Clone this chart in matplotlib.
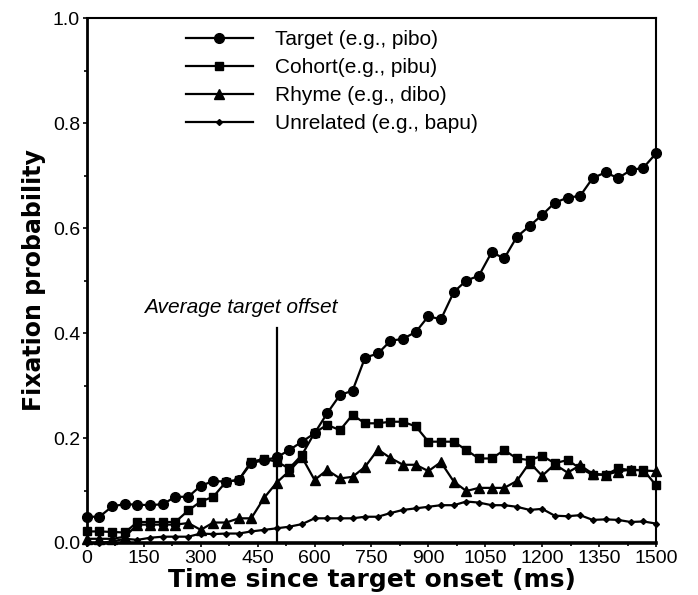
import numpy as np
import matplotlib
matplotlib.use("Agg")
import matplotlib.pyplot as plt
from matplotlib.ticker import MultipleLocator, FormatStrFormatter

plt.rcParams['font.family'] = ['Liberation Sans', 'DejaVu Sans']

# time bins (ms since target onset)
time_ms = [0, 33, 67, 100, 133, 167, 200, 233, 267, 300, 333, 367, 400, 433, 467,
           500, 533, 567, 600, 633, 667, 700, 733, 767, 800, 833, 867, 900, 933, 967,
           1000, 1033, 1067, 1100, 1133, 1167, 1200, 1233, 1267, 1300, 1333, 1367,
           1400, 1433, 1467, 1500]

target = [0.050, 0.050, 0.070, 0.074, 0.073, 0.072, 0.074, 0.088, 0.088, 0.109,
          0.118, 0.117, 0.120, 0.152, 0.158, 0.163, 0.177, 0.193, 0.209, 0.247,
          0.282, 0.290, 0.353, 0.361, 0.385, 0.389, 0.402, 0.432, 0.426, 0.478,
          0.500, 0.509, 0.554, 0.542, 0.583, 0.604, 0.625, 0.648, 0.658, 0.661,
          0.695, 0.706, 0.695, 0.710, 0.715, 0.742]

cohort = [0.022, 0.022, 0.021, 0.020, 0.040, 0.040, 0.040, 0.040, 0.062, 0.079,
          0.088, 0.117, 0.120, 0.155, 0.160, 0.155, 0.142, 0.168, 0.210, 0.225,
          0.215, 0.244, 0.228, 0.228, 0.231, 0.231, 0.222, 0.193, 0.193, 0.193,
          0.177, 0.161, 0.161, 0.177, 0.161, 0.158, 0.166, 0.152, 0.158, 0.142,
          0.130, 0.130, 0.142, 0.139, 0.139, 0.110]

rhyme = [0.008, 0.008, 0.008, 0.012, 0.035, 0.035, 0.035, 0.035, 0.038, 0.025,
         0.039, 0.039, 0.047, 0.047, 0.086, 0.115, 0.137, 0.163, 0.120, 0.139,
         0.123, 0.126, 0.145, 0.178, 0.162, 0.149, 0.149, 0.137, 0.154, 0.117,
         0.099, 0.105, 0.105, 0.105, 0.118, 0.153, 0.128, 0.150, 0.134, 0.148,
         0.132, 0.130, 0.136, 0.140, 0.138, 0.137]

unrelated = [0.000, 0.000, 0.003, 0.008, 0.006, 0.010, 0.012, 0.012, 0.012, 0.018,
             0.017, 0.018, 0.018, 0.022, 0.025, 0.028, 0.031, 0.036, 0.047, 0.047,
             0.047, 0.047, 0.050, 0.050, 0.057, 0.063, 0.066, 0.069, 0.072, 0.072,
             0.079, 0.077, 0.072, 0.072, 0.069, 0.063, 0.065, 0.052, 0.051, 0.053,
             0.044, 0.045, 0.044, 0.040, 0.041, 0.037]

labels = ['Target (e.g., pibo)', 'Cohort(e.g., pibu)',
          'Rhyme (e.g., dibo)', 'Unrelated (e.g., bapu)']

offset_ms = 500

fig = plt.figure(figsize=(6.98, 5.95), dpi=100)
ax = fig.add_axes([0.1246, 0.0874, 0.8152, 0.8823])

styles = [('o', 7.0), ('s', 6.3), ('^', 7.0), ('D', 3.0)]
for series, lab, (mk, ms) in zip([target, cohort, rhyme, unrelated], labels, styles):
    ax.plot(time_ms, series, color='black', lw=1.6, marker=mk, ms=ms,
            label=lab, clip_on=False, zorder=3)

# average target offset marker
ax.plot([offset_ms, offset_ms], [0, 0.41], color='black', lw=1.6, zorder=2)
ax.text(406, 0.448, 'Average target offset', style='italic', fontsize=15,
        ha='center', va='center')

ax.set_xlim(0, 1500)
ax.set_ylim(0, 1.0)
ax.xaxis.set_major_locator(MultipleLocator(150))
ax.xaxis.set_minor_locator(MultipleLocator(75))
ax.yaxis.set_major_locator(MultipleLocator(0.2))
ax.yaxis.set_minor_locator(MultipleLocator(0.1))
ax.yaxis.set_major_formatter(FormatStrFormatter('%.1f'))
ax.tick_params(axis='both', which='both', direction='out', width=1.2)
ax.tick_params(axis='both', which='major', length=3, labelsize=14, pad=2)
ax.tick_params(axis='both', which='minor', length=2.5)

ax.spines['left'].set_linewidth(2.0)
ax.spines['bottom'].set_linewidth(2.6)
ax.spines['top'].set_linewidth(1.5)
ax.spines['right'].set_linewidth(1.5)

ax.set_xlabel('Time since target onset (ms)', fontsize=18, fontweight='bold',
              family='DejaVu Sans', labelpad=1)
ax.set_ylabel('Fixation probability', fontsize=17, fontweight='bold',
              family='DejaVu Sans', labelpad=5)

ax.legend(loc='upper left', bbox_to_anchor=(0.174, 0.977), frameon=False,
          fontsize=15, handlelength=3.2, handletextpad=1.05, labelspacing=0.43,
          borderpad=0, borderaxespad=0)

fig.savefig('out.png', dpi=100)
